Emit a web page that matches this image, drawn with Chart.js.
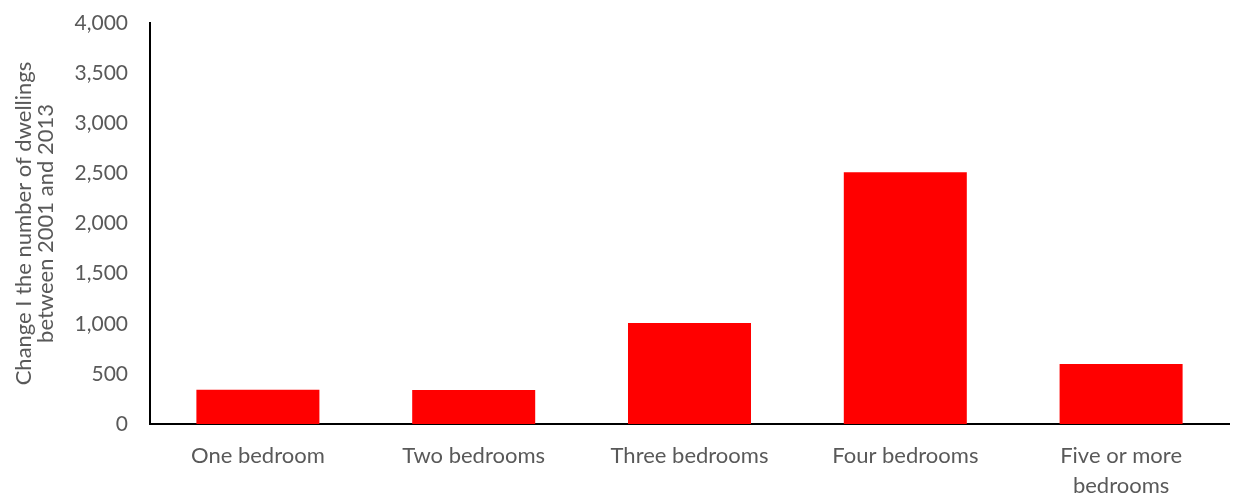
<!DOCTYPE html>
<html lang="en">
<head>
  <meta charset="UTF-8" />
  <title>Change in dwellings by number of bedrooms</title>
  <script src="https://cdn.jsdelivr.net/npm/chart.js"></script>
  <style>
    html, body {
      margin: 0;
      padding: 0;
      background: #fff;
    }
    .grafico {
      width: 1234px;
      height: 495px;
    }
  </style>
</head>
<body>
  <div class="grafico">
    <canvas id="grafico_quartos"></canvas>
  </div>

  <script>
    // bedroom categories and change in dwellings 2001-2013
    const categorias = ['One bedroom', 'Two bedrooms', 'Three bedrooms', 'Four bedrooms', ['Five or more', 'bedrooms']];
    const variacao = [342, 338, 1007, 2512, 598];
    const tituloY = ['Change I the number of dwellings', 'between 2001 and 2013'];

    const cinza = '#595959';
    const fonte = 'Lato, "Open Sans", sans-serif';

    const config = {
      type: 'bar',
      data: {
        labels: categorias,
        datasets: [{
          data: variacao,
          backgroundColor: '#ff0000',
          borderWidth: 0,
          barPercentage: 0.57,
          categoryPercentage: 1
        }]
      },
      options: {
        responsive: true,
        maintainAspectRatio: false,
        animation: false,
        layout: {
          padding: { top: 23, right: 5, left: 0, bottom: 0 }
        },
        plugins: {
          legend: { display: false },
          tooltip: { enabled: false }
        },
        scales: {
          x: {
            grid: { display: false, drawTicks: false },
            border: { color: '#000', width: 2 },
            ticks: {
              color: cinza,
              padding: 17,
              maxRotation: 0,
              autoSkip: false,
              font: { family: fonte, size: 22, lineHeight: 1.36 }
            },
            afterFit: function (escala) { escala.height = 71; }
          },
          y: {
            min: 0,
            max: 4000,
            grid: { display: false, drawTicks: false },
            border: { color: '#000', width: 2 },
            ticks: {
              stepSize: 500,
              color: cinza,
              padding: 22,
              font: { family: fonte, size: 21 },
              callback: v => v.toLocaleString('en-US')
            },
            title: {
              display: true,
              text: tituloY,
              color: cinza,
              padding: { top: 13, bottom: 0 },
              font: { family: fonte, size: 22, lineHeight: 1.0 }
            },
            afterFit: function (escala) {
              // the tick padding should not push the plot down
              escala.width = 150;
              escala.paddingTop = 0;
              escala.paddingBottom = 0;
            }
          }
        }
      }
    };

    const ctx = document.getElementById('grafico_quartos').getContext('2d');
    new Chart(ctx, config);
  </script>
</body>
</html>
